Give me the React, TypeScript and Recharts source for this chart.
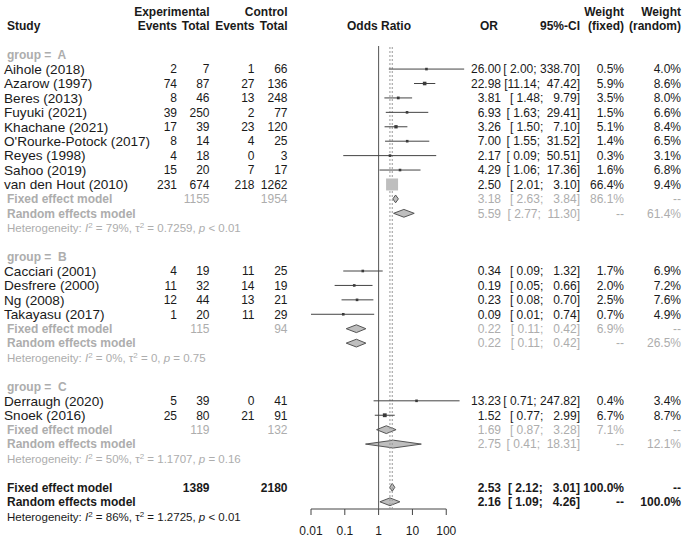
import React from 'react'
import { ComposedChart, Scatter, Area, XAxis, YAxis, ErrorBar, ReferenceLine } from 'recharts'

// study level data
const studyNames = [
  'Aihole (2018)', 'Azarow (1997)', 'Beres (2013)', 'Fuyuki (2021)', 'Khachane (2021)',
  "O'Rourke-Potock (2017)", 'Reyes (1998)', 'Sahoo (2019)', 'van den Hout (2010)',
  'Cacciari (2001)', 'Desfrere (2000)', 'Ng (2008)', 'Takayasu (2017)',
  'Derraugh (2020)', 'Snoek (2016)'
]
const studyGroup = ['A', 'A', 'A', 'A', 'A', 'A', 'A', 'A', 'A', 'B', 'B', 'B', 'B', 'C', 'C']
const expEvents = [2, 74, 8, 39, 17, 8, 4, 15, 231, 4, 11, 12, 1, 5, 25]
const expTotal = [7, 87, 46, 250, 39, 14, 18, 20, 674, 19, 32, 44, 20, 39, 80]
const ctrlEvents = [1, 27, 13, 2, 23, 4, 0, 7, 218, 11, 14, 13, 11, 0, 21]
const ctrlTotal = [66, 136, 248, 77, 120, 25, 3, 17, 1262, 25, 19, 21, 29, 41, 91]
const oddsRatio = [26.0, 22.98, 3.81, 6.93, 3.26, 7.0, 2.17, 4.29, 2.5, 0.34, 0.19, 0.23, 0.09, 13.23, 1.52]
const ciLower = [2.0, 11.14, 1.48, 1.63, 1.5, 1.55, 0.09, 1.06, 2.01, 0.09, 0.05, 0.08, 0.01, 0.71, 0.77]
const ciUpper = [338.7, 47.42, 9.79, 29.41, 7.1, 31.52, 50.51, 17.36, 3.1, 1.32, 0.66, 0.7, 0.74, 247.82, 2.99]
const weightFixed = [0.5, 5.9, 3.5, 1.5, 5.1, 1.4, 0.3, 1.6, 66.4, 1.7, 2.0, 2.5, 0.7, 0.4, 6.7]
const weightRandom = [4.0, 8.6, 8.0, 6.6, 8.4, 6.5, 3.1, 6.8, 9.4, 6.9, 7.2, 7.6, 4.9, 3.4, 8.7]

// subgroup summaries
const groups = ['A', 'B', 'C']
const groupExpTotal = [1155, 115, 119]
const groupCtrlTotal = [1954, 94, 132]
const groupFixedOR = [3.18, 0.22, 1.69]
const groupFixedLo = [2.63, 0.11, 0.87]
const groupFixedHi = [3.84, 0.42, 3.28]
const groupFixedWeight = [86.1, 6.9, 7.1]
const groupRandomOR = [5.59, 0.22, 2.75]
const groupRandomLo = [2.77, 0.11, 0.41]
const groupRandomHi = [11.3, 0.42, 18.31]
const groupRandomWeight = [61.4, 26.5, 12.1]
const groupI2 = ['79%', '0%', '50%']
const groupTau2 = ['0.7259', '0', '1.1707']
const groupP = ['< 0.01', '= 0.75', '= 0.16']

// overall
const totalExp = 1389
const totalCtrl = 2180
const overallFixed = [2.53, 2.12, 3.01]
const overallRandom = [2.16, 1.09, 4.26]
const overallHet = ['86%', '1.2725', '< 0.01']

const axisTicks = [0.01, 0.1, 1, 10, 100]

const W = 685
const H = 540
const PLOT_TOP = 46
const PLOT_BOTTOM = 509
const ROW_MIN = -0.6
const ROW_MAX = 31.5
const rowY = (r: number) => PLOT_TOP + (r - ROW_MIN) * (PLOT_BOTTOM - PLOT_TOP) / (ROW_MAX - ROW_MIN)

const INK = '#1a1a1a'
const GREY = '#adadad'
const FONT = '"Liberation Sans", Arial, sans-serif'

// work out the row of every line of the table
const studyRow: number[] = []
const groupRows: { label: number, fixed: number, random: number, het: number }[] = []
let r = 0
groups.forEach(g => {
  const label = r++
  studyGroup.forEach((sg, i) => { if (sg === g) studyRow[i] = r++ })
  const fixed = r++
  const random = r++
  const het = r++
  r++
  groupRows.push({ label, fixed, random, het })
})
const overallRows = { fixed: r, random: r + 1, het: r + 2 }

const studyPoints = studyNames.map((_, i) => ({
  x: oddsRatio[i],
  y: studyRow[i],
  err: [oddsRatio[i] - ciLower[i], ciUpper[i] - oddsRatio[i]],
  w: weightFixed[i]
}))

const diamonds = [
  ...groups.flatMap((_, g) => [
    [groupFixedOR[g], groupFixedLo[g], groupFixedHi[g], groupRows[g].fixed],
    [groupRandomOR[g], groupRandomLo[g], groupRandomHi[g], groupRows[g].random]
  ]),
  [...overallFixed, overallRows.fixed],
  [...overallRandom, overallRows.random]
].map(([est, lo, hi, row]) => [
  { x: lo, band: [row, row] },
  { x: est, band: [row - 0.27, row + 0.27] },
  { x: hi, band: [row, row] }
])

const Square = (props: any) => {
  const { cx, cy, payload } = props
  const s = Math.max(2.6, 1.47 * Math.sqrt(payload.w))
  return <rect x={cx - s / 2} y={cy - s / 2} width={s} height={s} fill={s > 8 ? '#bebebe' : '#3a3a3a'} />
}

const f2 = (v: number) => v.toFixed(2)
const ci = (lo: number, hi: number) => `[${f2(lo).padStart(5)}; ${f2(hi).padStart(6)}]`
const pct = (v: number) => `${v.toFixed(1)}%`

const COL = { name: 4, label: 7, expEv: 177, expTot: 209.5, ctlEv: 254.5, ctlTot: 287.5, or: 501, ci: 580, wf: 624, wr: 681 }

const T = ({ x, y, anchor = 'end', bold = false, color = INK, size = 12, children }: any) => (
  <text x={x} y={y} textAnchor={anchor} fontWeight={bold ? 'bold' : 'normal'} fill={color}
    fontSize={size} style={{ whiteSpace: 'pre' }}>{children}</text>
)

const Het = ({ y, i2, tau2, p, color }: any) => (
  <text x={COL.label} y={y} fill={color} fontSize={11.5} style={{ whiteSpace: 'pre' }}>
    Heterogeneity: <tspan fontStyle="italic">I</tspan><tspan dy={-4} fontSize={8}>2</tspan>
    <tspan dy={4}>{` = ${i2}, \u03c4`}</tspan><tspan dy={-4} fontSize={8}>2</tspan>
    <tspan dy={4}>{` = ${tau2}, `}</tspan><tspan fontStyle="italic">p</tspan>{` ${p}`}
  </text>
)

const Table = () => {
  const b = (row: number) => rowY(row) + 4.3
  return (
    <svg width={W} height={H} style={{ position: 'absolute', left: 0, top: 0, pointerEvents: 'none' }} fontFamily={FONT}>
      <T x={COL.expTot} y={16} bold>Experimental</T>
      <T x={COL.ctlTot} y={16} bold>Control</T>
      <T x={COL.wf} y={16} bold>Weight</T>
      <T x={COL.wr} y={16} bold>Weight</T>
      <T x={COL.label} y={29.5} anchor="start" bold>Study</T>
      <T x={COL.expEv} y={29.5} bold>Events</T>
      <T x={COL.expTot} y={29.5} bold>Total</T>
      <T x={COL.ctlEv} y={29.5} bold>Events</T>
      <T x={COL.ctlTot} y={29.5} bold>Total</T>
      <T x={379} y={29.5} anchor="middle" bold>Odds Ratio</T>
      <T x={498} y={29.5} bold>OR</T>
      <T x={COL.ci} y={29.5} bold>95%-CI</T>
      <T x={COL.wf} y={29.5} bold>(fixed)</T>
      <T x={COL.wr} y={29.5} bold>(random)</T>

      {studyNames.map((n, i) => {
        const y = b(studyRow[i])
        return (
          <g key={n}>
            <T x={COL.name} y={y + 0.5} anchor="start" size={13.6}>{n}</T>
            <T x={COL.expEv} y={y}>{expEvents[i]}</T>
            <T x={COL.expTot} y={y}>{expTotal[i]}</T>
            <T x={COL.ctlEv} y={y}>{ctrlEvents[i]}</T>
            <T x={COL.ctlTot} y={y}>{ctrlTotal[i]}</T>
            <T x={COL.or} y={y}>{f2(oddsRatio[i])}</T>
            <T x={COL.ci} y={y}>{ci(ciLower[i], ciUpper[i])}</T>
            <T x={COL.wf} y={y}>{pct(weightFixed[i])}</T>
            <T x={COL.wr} y={y}>{pct(weightRandom[i])}</T>
          </g>
        )
      })}

      {groups.map((g, k) => {
        const rows = groupRows[k]
        return (
          <g key={g}>
            <T x={COL.label} y={b(rows.label)} anchor="start" bold color={GREY}>{`group =  ${g}`}</T>
            <T x={COL.label} y={b(rows.fixed)} anchor="start" bold color={GREY}>Fixed effect model</T>
            <T x={COL.expTot} y={b(rows.fixed)} color={GREY}>{groupExpTotal[k]}</T>
            <T x={COL.ctlTot} y={b(rows.fixed)} color={GREY}>{groupCtrlTotal[k]}</T>
            <T x={COL.or} y={b(rows.fixed)} color={GREY}>{f2(groupFixedOR[k])}</T>
            <T x={COL.ci} y={b(rows.fixed)} color={GREY}>{ci(groupFixedLo[k], groupFixedHi[k])}</T>
            <T x={COL.wf} y={b(rows.fixed)} color={GREY}>{pct(groupFixedWeight[k])}</T>
            <T x={COL.wr} y={b(rows.fixed)} color={GREY}>--</T>
            <T x={COL.label} y={b(rows.random)} anchor="start" bold color={GREY}>Random effects model</T>
            <T x={COL.or} y={b(rows.random)} color={GREY}>{f2(groupRandomOR[k])}</T>
            <T x={COL.ci} y={b(rows.random)} color={GREY}>{ci(groupRandomLo[k], groupRandomHi[k])}</T>
            <T x={COL.wf} y={b(rows.random)} color={GREY}>--</T>
            <T x={COL.wr} y={b(rows.random)} color={GREY}>{pct(groupRandomWeight[k])}</T>
            <Het y={b(rows.het)} i2={groupI2[k]} tau2={groupTau2[k]} p={groupP[k]} color={GREY} />
          </g>
        )
      })}

      <T x={COL.label} y={b(overallRows.fixed)} anchor="start" bold>Fixed effect model</T>
      <T x={COL.expTot} y={b(overallRows.fixed)} bold>{totalExp}</T>
      <T x={COL.ctlTot} y={b(overallRows.fixed)} bold>{totalCtrl}</T>
      <T x={COL.or} y={b(overallRows.fixed)} bold>{f2(overallFixed[0])}</T>
      <T x={COL.ci} y={b(overallRows.fixed)} bold>{ci(overallFixed[1], overallFixed[2])}</T>
      <T x={COL.wf} y={b(overallRows.fixed)} bold>100.0%</T>
      <T x={COL.wr} y={b(overallRows.fixed)} bold>--</T>
      <T x={COL.label} y={b(overallRows.random)} anchor="start" bold>Random effects model</T>
      <T x={COL.or} y={b(overallRows.random)} bold>{f2(overallRandom[0])}</T>
      <T x={COL.ci} y={b(overallRows.random)} bold>{ci(overallRandom[1], overallRandom[2])}</T>
      <T x={COL.wf} y={b(overallRows.random)} bold>--</T>
      <T x={COL.wr} y={b(overallRows.random)} bold>100.0%</T>
      <Het y={b(overallRows.het)} i2={overallHet[0]} tau2={overallHet[1]} p={overallHet[2]} color={INK} />
    </svg>
  )
}

const App = () => {
  return (
    <div style={{ position: 'absolute', left: 0, top: 0, width: W, height: H, background: '#fff' }}>
      <ComposedChart width={W} height={H} margin={{ top: PLOT_TOP, right: 218.4, bottom: 0, left: 311 }}>
        <XAxis type="number" dataKey="x" scale="log" domain={[0.01, 400]} ticks={axisTicks}
          tickFormatter={(v: number) => String(v)} axisLine={false} tickSize={6} tickMargin={11} height={H - PLOT_BOTTOM}
          tickLine={{ stroke: '#444' }} tick={{ fill: INK, fontSize: 12, fontFamily: FONT }} interval={0} />
        <YAxis type="number" domain={[ROW_MIN, ROW_MAX]} reversed hide />
        <ReferenceLine segment={[{ x: 0.01, y: ROW_MAX }, { x: 100, y: ROW_MAX }]} stroke="#444" />
        <ReferenceLine x={1} stroke="#555" />
        <ReferenceLine x={overallFixed[0]} stroke="#999" strokeDasharray="2 2" />
        <ReferenceLine x={overallRandom[0]} stroke="#999" strokeDasharray="2 2" />
        <Scatter data={studyPoints} dataKey="y" shape={<Square />} isAnimationActive={false}>
          <ErrorBar dataKey="err" direction="x" width={0} stroke="#444" strokeWidth={1} />
        </Scatter>
        {diamonds.map((d, i) => (
          <Area key={i} data={d} dataKey="band" type="linear" fill="#bebebe" fillOpacity={1}
            stroke="#555" strokeWidth={1} dot={false} activeDot={false} isAnimationActive={false} />
        ))}
      </ComposedChart>
      <Table />
    </div>
  )
}

export default App
